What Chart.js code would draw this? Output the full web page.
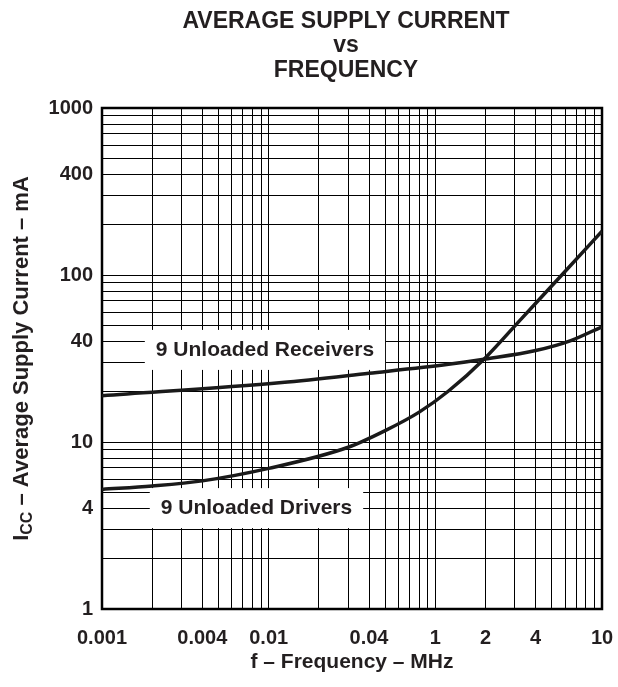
<!DOCTYPE html>
<html>
<head>
<meta charset="utf-8">
<script src="https://cdn.jsdelivr.net/npm/chart.js@4.4.0/dist/chart.umd.min.js"></script>
<style>
  html, body { margin: 0; padding: 0; background: #fff; }
</style>
</head>
<body>
<canvas id="mygraph" width="618" height="687"></canvas>
<script>
// curve data (f in MHz, Icc in mA)
var receiverFreq = [0.01, 0.12, 0.4, 1.2, 2, 4, 6.5, 10];
var receiverCurrent = [18.9, 22.7, 25.8, 29.2, 31.4, 35.3, 40.5, 49];
var driverFreq = [0.01, 0.02, 0.04, 0.1, 0.3, 0.5, 0.8, 1.2, 2, 3.3, 6, 10];
var driverCurrent = [5.2, 5.45, 5.85, 6.95, 9.3, 11.7, 15.1, 20.2, 32, 55, 105, 183];

// tick labels as printed on the chart
var xTickValues = [0.01, 0.04, 0.1, 0.4, 1, 2, 4, 10];
var xTickLabels = ["0.001", "0.004", "0.01", "0.04", "1", "2", "4", "10"];
var yTickValues = [1, 4, 10, 40, 100, 400, 1000];
var yTickLabels = ["1", "4", "10", "40", "100", "400", "1000"];

// curve labels, placed in data units
var noteTexts = ["9 Unloaded Receivers", "9 Unloaded Drivers"];
var noteFreqs = [0.095, 0.0845];
var noteCurrents = [35.6, 4.02];

var fontFamily = "'Liberation Sans', Arial, Helvetica, sans-serif";
var ink = "#231f20";

function points(xs, ys) {
  return xs.map(function (x, i) { return { x: x, y: ys[i] }; });
}

// one grid line for every 1..9 step of each decade
function logGrid(min, max) {
  var v = [];
  for (var e = Math.round(Math.log10(min)); e < Math.round(Math.log10(max)); e++) {
    for (var m = 1; m < 10; m++) v.push(+(m * Math.pow(10, e)).toPrecision(3));
  }
  v.push(max);
  return v;
}

function labelFor(values, labels) {
  return function (value) {
    for (var i = 0; i < values.length; i++) {
      if (Math.abs(values[i] - value) / values[i] < 1e-6) return labels[i];
    }
    return "";
  };
}

var decorations = {
  id: "decorations",
  beforeDatasetsDraw: function (chart) {
    var ctx = chart.ctx, a = chart.chartArea;
    var xs = chart.scales.x, ys = chart.scales.y;
    ctx.save();
    // frame
    ctx.strokeStyle = "#000";
    ctx.lineWidth = 2.5;
    ctx.strokeRect(a.left, a.top, a.right - a.left, a.bottom - a.top);
    // curve labels on white boxes
    ctx.font = "bold 21px " + fontFamily;
    ctx.textAlign = "center";
    ctx.textBaseline = "middle";
    for (var i = 0; i < noteTexts.length; i++) {
      var cx = xs.getPixelForValue(noteFreqs[i]);
      var cy = ys.getPixelForValue(noteCurrents[i]);
      var w = ctx.measureText(noteTexts[i]).width + 22;
      ctx.fillStyle = "#fff";
      ctx.fillRect(cx - w / 2, cy - 20, w, 40);
      ctx.fillStyle = ink;
      ctx.fillText(noteTexts[i], cx, cy);
    }
    ctx.restore();
  },
  afterDraw: function (chart) {
    var ctx = chart.ctx, a = chart.chartArea;
    ctx.save();
    ctx.fillStyle = ink;
    // title
    ctx.font = "bold 23px " + fontFamily;
    ctx.textAlign = "center";
    ctx.textBaseline = "alphabetic";
    ctx.fillText("AVERAGE SUPPLY CURRENT", 346, 28);
    ctx.fillText("vs", 346, 52);
    ctx.fillText("FREQUENCY", 346, 77);
    // y axis title with subscript
    var big = "bold 22px " + fontFamily, small = "bold 16px " + fontFamily;
    var rest = " \u2013 Average Supply Current \u2013 mA";
    ctx.font = big;
    var wI = ctx.measureText("I").width, wRest = ctx.measureText(rest).width;
    ctx.font = small;
    var wCC = ctx.measureText("CC").width;
    var total = wI + wCC + wRest;
    ctx.translate(28, (a.top + a.bottom) / 2);
    ctx.rotate(-Math.PI / 2);
    ctx.textAlign = "left";
    var x0 = -total / 2;
    ctx.font = big;
    ctx.fillText("I", x0, 0);
    ctx.font = small;
    ctx.fillText("CC", x0 + wI, 4);
    ctx.font = big;
    ctx.fillText(rest, x0 + wI + wCC, 0);
    ctx.restore();
  }
};

var ctx = document.getElementById("mygraph");

var mygraph = new Chart(ctx, {
  type: "line",
  data: {
    datasets: [
      {
        label: "9 Unloaded Receivers",
        data: points(receiverFreq, receiverCurrent),
        borderColor: "#1a1a1a",
        borderWidth: 3.5,
        pointRadius: 0,
        cubicInterpolationMode: "monotone",
        fill: false
      },
      {
        label: "9 Unloaded Drivers",
        data: points(driverFreq, driverCurrent),
        borderColor: "#1a1a1a",
        borderWidth: 3.5,
        pointRadius: 0,
        cubicInterpolationMode: "monotone",
        fill: false
      }
    ]
  },
  options: {
    responsive: false,
    animation: false,
    layout: { padding: { top: 108, right: 16, left: 0, bottom: 0 } },
    plugins: {
      legend: { display: false },
      tooltip: { enabled: false },
      title: { display: false }
    },
    scales: {
      x: {
        type: "logarithmic",
        min: 0.01,
        max: 10,
        afterBuildTicks: function (scale) {
          scale.ticks = logGrid(0.01, 10).map(function (v) { return { value: v }; });
        },
        afterFit: function (scale) {
          scale.height = 78;
          scale.paddingRight = 0;
        },
        grid: { color: "#000", lineWidth: 1, drawTicks: false },
        border: { display: false },
        ticks: {
          autoSkip: false,
          maxRotation: 0,
          padding: 17,
          color: ink,
          font: { family: fontFamily, size: 20, weight: "bold" },
          callback: labelFor(xTickValues, xTickLabels)
        },
        title: {
          display: true,
          text: "f \u2013 Frequency \u2013 MHz",
          color: ink,
          font: { family: fontFamily, size: 21, weight: "bold" },
          padding: { top: 0, bottom: 12 }
        }
      },
      y: {
        type: "logarithmic",
        min: 1,
        max: 1000,
        afterBuildTicks: function (scale) {
          scale.ticks = logGrid(1, 1000).map(function (v) { return { value: v }; });
        },
        afterFit: function (scale) { scale.width = 102; },
        grid: { color: "#000", lineWidth: 1, drawTicks: false },
        border: { display: false },
        ticks: {
          autoSkip: false,
          padding: 9,
          color: ink,
          font: { family: fontFamily, size: 20, weight: "bold" },
          callback: labelFor(yTickValues, yTickLabels)
        }
      }
    }
  },
  plugins: [decorations]
});
</script>
</body>
</html>
